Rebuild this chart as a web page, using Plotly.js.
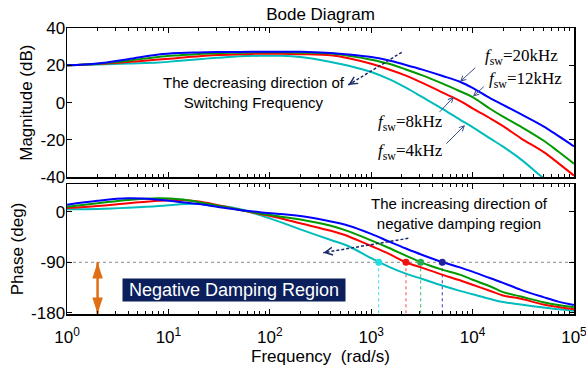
<!DOCTYPE html>
<html><head><meta charset="utf-8">
<script src="https://cdn.plot.ly/plotly-3.0.1.min.js"></script>
<style>html,body{margin:0;padding:0;background:#fff}#chart{width:586px;height:366px}</style>
</head><body><div id="chart"></div>
<script>
// Frequency samples (rad/s)
const freq = [1, 2, 4, 8, 13, 20, 30, 50, 80, 130, 200, 400, 600, 1000, 1500, 2200, 3200, 5000, 7500, 10000, 15000, 20000, 30000, 50000, 70000, 100000];

// Magnitude (dB)
const magBlue  = [20.0, 21.0, 23.3, 25.8, 26.6, 26.9, 27.1, 27.2, 27.3, 27.3, 27.3, 26.6, 25.8, 24.4, 22.6, 20.2, 17.7, 14.4, 11.2, 7.9, 2.3, -1.2, -6.2, -12.7, -17.8, -23.4];
const magGreen = [20.0, 20.9, 22.5, 24.5, 25.4, 26.1, 26.5, 26.8, 27.0, 27.0, 26.8, 26.3, 25.1, 23.0, 20.8, 17.8, 14.6, 10.3, 6.1, 3.0, -3.4, -7.5, -12.9, -20.3, -26.2, -32.7];
const magRed   = [20.0, 20.7, 21.8, 23.1, 24.0, 24.9, 25.5, 25.9, 26.2, 26.2, 26.0, 25.4, 23.8, 20.8, 17.8, 14.5, 10.6, 5.5, 1.0, -3.1, -8.5, -12.6, -19.1, -26.4, -32.4, -39.1];
const magCyan  = [20.0, 20.5, 21.0, 21.5, 22.5, 23.3, 24.0, 24.8, 25.1, 25.1, 24.4, 21.8, 19.8, 16.4, 12.6, 8.0, 2.9, -3.2, -9.1, -13.1, -19.3, -23.6, -30.4, -40.5, -46.5, -53.0];

// Phase (deg)
const phaseBlue  = [12.5, 19.5, 23.8, 21.5, 17.5, 13.7, 9.0, 3.2, -0.8, -4.2, -7.8, -17.5, -25.0, -39.5, -53.0, -65.5, -77.0, -89.5, -99.0, -106.7, -118.5, -126.5, -139.0, -152.0, -160.0, -166.0];
const phaseGreen = [8.9, 15.0, 21.0, 23.8, 22.0, 17.0, 11.0, 3.5, -3.0, -9.0, -13.8, -25.0, -35.0, -51.0, -64.5, -78.0, -91.0, -103.0, -112.0, -121.0, -133.0, -143.0, -151.0, -161.0, -166.0, -170.0];
const phaseRed   = [6.5, 10.0, 15.0, 19.5, 20.8, 18.0, 12.0, 3.5, -4.0, -12.0, -20.6, -34.0, -44.0, -61.0, -75.0, -90.0, -100.0, -112.0, -122.0, -130.0, -141.0, -149.0, -155.0, -165.0, -169.5, -173.6];
const phaseCyan  = [4.3, 5.0, 7.0, 10.0, 13.5, 14.0, 11.0, 5.0, -6.0, -19.0, -31.4, -50.3, -61.5, -82.7, -98.0, -110.2, -119.8, -131.4, -140.8, -146.9, -155.4, -160.7, -165.3, -170.5, -173.5, -176.0];

// -90 deg crossing frequencies (rad/s): 20kHz, 12kHz, 8kHz, 4kHz
const crossFreq = [5025, 3077, 2204, 1186];
const dampingLimit = -90;

const seriesLabels = ['f_sw=20kHz', 'f_sw=12kHz', 'f_sw=8kHz', 'f_sw=4kHz'];

// Tick labels
const xTickVals = [1, 10, 100, 1000, 10000, 100000];
const xTickText = ['10<sup>0</sup>', '10<sup>1</sup>', '10<sup>2</sup>', '10<sup>3</sup>', '10<sup>4</sup>', '10<sup>5</sup>'];
const magTickVals = [-40, -20, 0, 20, 40];
const magTickText = ['-40', '-20', '0', '20', '40'];
const phaseTickVals = [-180, -90, 0];
const phaseTickText = ['-180', '-90', '0'];

// ---- styling ----
const lineColors = ['#0000ff', '#009a00', '#ff0000', '#00bcbc'];
const dotColors = ['#22229a', '#22aa55', '#ee1111', '#22dddd'];
const vlineColors = ['#3333bb', '#33bb66', '#ff4444', '#33dddd'];
const FONT = 'Liberation Sans, Arial, Helvetica, sans-serif';
const SERIF = 'Liberation Serif, Times New Roman, serif';
const phaseRange = [-182, 49.3];
const magRange = [-40, 40];
const xRange = [-0.0005, 5.0005];

const mags = [magBlue, magGreen, magRed, magCyan];
const phases = [phaseBlue, phaseGreen, phaseRed, phaseCyan];

const traces = [];
crossFreq.forEach((f, i) => {
  traces.push({x: [f, f], y: [dampingLimit, phaseRange[0]], xaxis: 'x', yaxis: 'y', mode: 'lines',
    line: {color: vlineColors[i], width: 1, dash: 'dot'}, hoverinfo: 'skip'});
});
[3, 2, 1, 0].forEach(i => {
  traces.push({x: freq, y: mags[i], xaxis: 'x2', yaxis: 'y2', mode: 'lines', name: seriesLabels[i],
    line: {color: lineColors[i], width: 2, shape: 'spline', smoothing: 1}});
  traces.push({x: freq, y: phases[i], xaxis: 'x', yaxis: 'y', mode: 'lines', name: seriesLabels[i],
    line: {color: lineColors[i], width: 2, shape: 'spline', smoothing: 1}});
});
traces.push({x: crossFreq, y: crossFreq.map(() => dampingLimit), xaxis: 'x', yaxis: 'y', mode: 'markers',
  marker: {size: 7, color: dotColors, line: {width: 0}}, hoverinfo: 'skip'});
const dampArrowFreq = 2;
traces.push({x: [dampArrowFreq, dampArrowFreq], y: [dampingLimit, phaseRange[0] + 0.5], xaxis: 'x', yaxis: 'y',
  mode: 'lines+markers', line: {color: '#e06e14', width: 2.5},
  marker: {symbol: 'arrow', size: 17, angle: [0, 180], color: '#e06e14', line: {width: 0}}, hoverinfo: 'skip', cliponaxis: false});

const axisCommon = {
  showline: true, linecolor: '#000', linewidth: 1.5, mirror: 'ticks',
  ticks: 'inside', ticklen: 5, tickwidth: 1, tickcolor: '#000',
  showgrid: false, zeroline: false,
  tickfont: {family: FONT, size: 17, color: '#000'}
};

function txt(x, y, text, font) {
  return {xref: 'paper', yref: 'paper', x: x, y: y, xanchor: 'center', yanchor: 'middle',
    showarrow: false, text: text, font: font};
}
function arr(x, y, ax, ay, w, color) {
  return {xref: 'paper', yref: 'paper', x: x, y: y, ax: ax, ay: ay, text: ' ', showarrow: true,
    arrowhead: 5, arrowsize: 1, arrowwidth: w, arrowcolor: color};
}
const sansF = {family: FONT, size: 15, color: '#000'};
const serifF = {family: SERIF, size: 17, color: '#000'};

const layout = {
  width: 586, height: 366,
  margin: {l: 67, r: 12, t: 28, b: 52},
  paper_bgcolor: '#fff', plot_bgcolor: '#fff',
  showlegend: false,
  font: {family: FONT, color: '#000'},
  title: {text: 'Bode Diagram', font: {family: FONT, size: 17, color: '#000'},
    x: 0.5, xref: 'paper', y: 1 - 14 / 366, yref: 'container', yanchor: 'middle'},
  xaxis: Object.assign({}, axisCommon, {
    type: 'log', range: xRange, anchor: 'y',
    tickmode: 'array', tickvals: xTickVals, ticktext: xTickText, ticklabelstandoff: 7,
    ticklabeloverflow: 'allow',
    minor: {ticks: 'inside', ticklen: 3, tickcolor: '#000', dtick: 'D1', showgrid: false},
    title: {text: 'Frequency\u00a0 (rad/s)', font: {family: FONT, size: 17, color: '#000'}, standoff: 0}
  }),
  yaxis: Object.assign({}, axisCommon, {
    domain: [0, 0.4545], range: phaseRange, anchor: 'x', ticklabelstandoff: -3,
    tickmode: 'array', tickvals: phaseTickVals, ticktext: phaseTickText,
    title: {text: 'Phase (deg)', font: {family: FONT, size: 17, color: '#000'}, standoff: 3}
  }),
  xaxis2: Object.assign({}, axisCommon, {
    type: 'log', range: xRange, anchor: 'y2', matches: 'x', showticklabels: false,
    tickmode: 'array', tickvals: xTickVals,
    minor: {ticks: 'inside', ticklen: 3, tickcolor: '#000', dtick: 'D1', showgrid: false}
  }),
  yaxis2: Object.assign({}, axisCommon, {
    domain: [0.478, 1], range: magRange, anchor: 'x2', ticklabelstandoff: -3,
    tickmode: 'array', tickvals: magTickVals, ticktext: magTickText,
    title: {text: 'Magnitude (dB)', font: {family: FONT, size: 17, color: '#000'}, standoff: 3}
  }),
  shapes: [
    {type: 'line', xref: 'x domain', yref: 'y', x0: 0, x1: 1, y0: dampingLimit, y1: dampingLimit,
      line: {color: '#888', width: 1, dash: '3px,3px'}, layer: 'below'},
    {type: 'line', xref: 'paper', yref: 'paper', x0: 0.6602, y0: 0.9150, x1: 0.5548, y1: 0.8007,
      line: {color: '#1a2a6a', width: 1.5, dash: '3px,2px'}},
    {type: 'line', xref: 'paper', yref: 'paper', x0: 0.6732, y0: 0.2647, x1: 0.5055, y1: 0.2143,
      line: {color: '#1a2a6a', width: 1.5, dash: '3px,2px'}}
  ],
  annotations: [
    txt(0.3688, 0.7762, 'The decreasing direction of<br>Switching Frequency', sansF),
    txt(0.7732, 0.3531, 'The increasing direction of<br>negative damping region', sansF),
    txt(0.8964, 0.8986, '<i>f</i><sub>sw</sub>=20kHz', serifF),
    txt(0.9053, 0.8182, '<i>f</i><sub>sw</sub>=12kHz', serifF),
    txt(0.6775, 0.6678, '<i>f</i><sub>sw</sub>=8kHz', serifF),
    txt(0.6775, 0.5664, '<i>f</i><sub>sw</sub>=4kHz', serifF),
    arr(0.7751, 0.8122, 18.3, -16.7, 1, '#3d4f8a'),
    arr(0.8008, 0.7605, 13.7, -12.5, 1, '#3d4f8a'),
    arr(0.7633, 0.7598, -17.3, 18.3, 1, '#3d4f8a'),
    arr(0.7850, 0.6608, -21.7, 21.7, 1, '#3d4f8a'),
    arr(0.5548, 0.8007, 6.8, -4.2, 1.5, '#1a2a6a'),
    arr(0.5055, 0.2143, 7.9, -1.3, 1.5, '#1a2a6a'),
    Object.assign(txt(0.3294, 0.0822, 'Negative Damping Region', {family: FONT, size: 18, color: '#fff'}),
      {bgcolor: '#0a1f5c', width: 222, height: 22, borderpad: 0})
  ]
};

Plotly.newPlot('chart', traces, layout, {staticPlot: true, displayModeBar: false});
</script>
</body></html>
